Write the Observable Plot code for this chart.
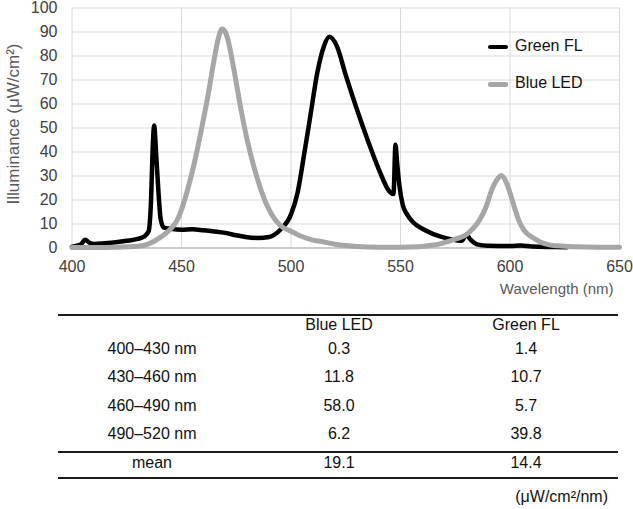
<!DOCTYPE html>
<html>
<head>
<meta charset="utf-8">
<script src="https://cdn.jsdelivr.net/npm/d3@7"></script>
<script src="https://cdn.jsdelivr.net/npm/@observablehq/plot@0.6"></script>
<style>
  html, body { margin: 0; padding: 0; background: #fff; }
  body { width: 633px; height: 509px; position: relative; overflow: hidden;
         font-family: "Liberation Sans", Arial, sans-serif; }
  #chart { position: absolute; left: 0; top: 0; }
  .abs { position: absolute; white-space: nowrap; line-height: 1; }
  .rule { position: absolute; background: #1a1a1a; }
</style>
</head>
<body>
<div id="chart"></div>
<script>
// ---- Spectrum data ----
const greenWl  = [400, 404, 406, 408, 410, 415, 420, 425, 430, 433, 435, 436, 437, 437.5, 438.5, 439.5, 440.5, 442, 445, 450, 455, 460, 465, 470, 475, 480, 485, 490, 495, 500, 503, 506, 509, 512, 515, 517.5, 521, 525, 530, 535, 540, 545, 546.8, 547.7, 548.5, 549.5, 551, 553, 556, 560, 565, 570, 575, 578, 580, 582, 585, 590, 600, 605, 610, 620, 626];
const greenVal = [0.5, 1.4, 3.4, 2.2, 1.7, 2.0, 2.4, 3.0, 3.8, 4.8, 7, 18, 45, 51, 38, 23, 12, 8.5, 8, 7.6, 7.8, 7.4, 6.9, 6.3, 5.3, 4.5, 4.2, 4.6, 7.5, 14, 23, 39, 56, 73, 84, 88, 84, 72, 58, 45, 33, 23.5, 22.5, 43, 35, 26, 18, 14, 10.5, 8, 5.8, 4.3, 3.3, 3.0, 5.5, 3.5, 1.5, 0.9, 0.8, 1.0, 0.6, 0.4, 0.3];

const blueWl  = [400, 410, 420, 430, 435, 440, 445, 448, 450, 453, 456, 459, 462, 465, 467, 468.5, 470, 471, 474, 477, 480, 483, 486, 488, 490, 495, 500, 505, 510, 515, 520, 525, 530, 540, 550, 558, 563, 568, 572, 576, 580, 583, 586, 589, 592, 594.5, 596, 598, 600, 602, 604, 606, 608, 611, 614, 618, 622, 630, 640, 650];
const blueVal = [0.2, 0.2, 0.3, 0.7, 1.7, 4.2, 8, 11.5, 16, 25, 36, 49, 63, 79, 88, 91.3, 90, 87.5, 74, 58.5, 45, 34, 25, 20, 16, 9.5, 7.0, 4.8, 3.3, 2.5, 1.6, 1.0, 0.6, 0.3, 0.3, 0.5, 1.0, 1.7, 2.8, 4.0, 5.5, 8, 11.5, 17, 25, 29, 30.2, 28, 23, 17, 11.5, 8, 5.8, 4.0, 2.4, 1.3, 0.9, 0.5, 0.3, 0.3];

const xTicks = [400, 450, 500, 550, 600, 650];
const yTicks = [0, 10, 20, 30, 40, 50, 60, 70, 80, 90, 100];
const seriesNames = ["Green FL", "Blue LED"];
const xTitle = "Wavelength (nm)";
const yTitle = "Illuminance (μW/cm²)";

// ---- Table data ----
const tableCols  = ["Blue LED", "Green FL"];
const bandLabels = ["400–430 nm", "430–460 nm", "460–490 nm", "490–520 nm"];
const blueBand   = [0.3, 11.8, 58.0, 6.2];
const greenBand  = [1.4, 10.7, 5.7, 39.8];
const meanLabel  = "mean";
const meanValues = [19.1, 14.4];
const unitLabel  = "(μW/cm²/nm)";

const green = greenWl.map((w, i) => ({w, v: greenVal[i]}));
const blue  = blueWl.map((w, i) => ({w, v: blueVal[i]}));

const tickColor = "#404040";
const plot = Plot.plot({
  width: 633,
  height: 305,
  marginLeft: 71.5,
  marginRight: 14,
  marginTop: 7.5,
  marginBottom: 57.5,
  style: {fontFamily: "'Liberation Sans', Arial, sans-serif", background: "transparent", overflow: "visible"},
  x: {domain: [400, 650], ticks: xTicks},
  y: {domain: [0, 100], ticks: yTicks},
  marks: [
    Plot.gridX(xTicks, {stroke: "#d9d9d9", strokeOpacity: 1, strokeWidth: 1}),
    Plot.gridY(yTicks, {stroke: "#d9d9d9", strokeOpacity: 1, strokeWidth: 1}),
    Plot.ruleY([0], {stroke: "#bfbfbf", strokeWidth: 1.5}),
    Plot.axisX({ticks: xTicks, tickSize: 0, tickPadding: 12.5, fontSize: 16, fill: tickColor, label: null, tickFormat: d => String(d)}),
    Plot.axisY({ticks: yTicks, tickSize: 0, tickPadding: 14.5, fontSize: 16, fill: tickColor, label: null, tickFormat: d => String(d)}),
    Plot.line(green, {x: "w", y: "v", curve: "monotone-x", stroke: "#000", strokeWidth: 4.5, strokeLinejoin: "round", strokeLinecap: "round"}),
    Plot.line(blue, {x: "w", y: "v", curve: "monotone-x", stroke: "#a6a6a6", strokeWidth: 5, strokeLinejoin: "round", strokeLinecap: "round"}),
    Plot.text([xTitle], {frameAnchor: "bottom-right", dx: -6, dy: 45.5, textAnchor: "end", fontSize: 15, fill: "#595959"}),
    Plot.text([yTitle], {frameAnchor: "left", rotate: -90, dx: -58, dy: -4, textAnchor: "middle", fontSize: 17, fill: "#595959"})
  ]
});
document.getElementById("chart").appendChild(plot);

// ---- Legend (HTML overlay) ----
const legendStyles = [
  {color: "#000", h: 4, top: 47},
  {color: "#a6a6a6", h: 5, top: 84}
];
seriesNames.forEach((name, i) => {
  const s = legendStyles[i];
  const sw = document.createElement("div");
  sw.className = "abs";
  sw.style.cssText = `left:488px;top:${s.top - s.h / 2}px;width:20px;height:${s.h}px;background:${s.color};border-radius:2px;`;
  document.body.appendChild(sw);
  const t = document.createElement("div");
  t.className = "abs";
  t.textContent = name;
  t.style.cssText = `left:515px;top:${s.top - 9}px;font-size:16px;color:#111;`;
  document.body.appendChild(t);
});

// ---- Table ----
function addText(txt, cx, cy, size, align) {
  const d = document.createElement("div");
  d.className = "abs";
  d.textContent = txt;
  d.style.fontSize = size + "px";
  d.style.color = "#111";
  d.style.top = (cy - size * 0.56) + "px";
  if (align === "right") { d.style.right = (633 - cx) + "px"; }
  else { d.style.left = cx + "px"; d.style.transform = "translateX(-50%)"; }
  document.body.appendChild(d);
}
function addRule(y, h) {
  const r = document.createElement("div");
  r.className = "rule";
  r.style.cssText = `left:58px;width:560px;top:${y - h / 2}px;height:${h}px;`;
  document.body.appendChild(r);
}
const colX = [152, 339, 526];
const rowY = [350, 378, 407, 435];
addRule(315, 2);
tableCols.forEach((c, i) => addText(c, colX[i + 1], 326, 16));
bandLabels.forEach((lab, i) => {
  addText(lab, colX[0], rowY[i], 16);
  addText(blueBand[i].toFixed(1), colX[1], rowY[i], 16);
  addText(greenBand[i].toFixed(1), colX[2], rowY[i], 16);
});
addRule(452, 1.5);
addText(meanLabel, colX[0], 463.5, 16);
meanValues.forEach((m, i) => addText(m.toFixed(1), colX[i + 1], 463.5, 16));
addRule(478, 2);
addText(unitLabel, 608, 498, 16, "right");
</script>
</body>
</html>
